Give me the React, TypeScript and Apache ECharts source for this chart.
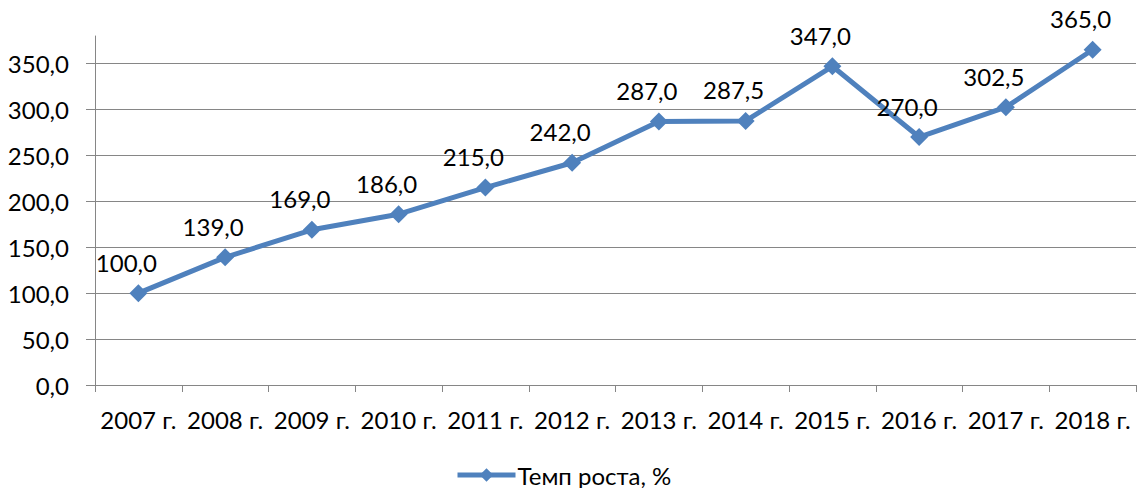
import React, { useEffect, useRef } from "react";
import * as echarts from "echarts";

const categories = ["2007 г.", "2008 г.", "2009 г.", "2010 г.", "2011 г.", "2012 г.", "2013 г.", "2014 г.", "2015 г.", "2016 г.", "2017 г.", "2018 г."];
const growthRate = [100, 139, 169, 186, 215, 242, 287, 287.5, 347, 270, 302.5, 365];
const seriesName = "Темп роста, %";

const FONT = "Lato, 'Open Sans', sans-serif";
const FS = 24;
const fmt = (v: number) => v.toFixed(1).replace(".", ",");

export default function App() {
  const ref = useRef<HTMLDivElement>(null);
  useEffect(() => {
    if (!ref.current) return;
    const chart = echarts.init(ref.current, undefined, { renderer: "svg" });
    chart.setOption({
      animation: false,
      backgroundColor: "#ffffff",
      textStyle: { fontFamily: FONT },
      grid: { left: 95, right: 2, top: 36, bottom: 103, containLabel: false },
      legend: {
        show: true,
        left: 450,
        top: 458,
        itemWidth: 58,
        itemHeight: 17,
        itemGap: 4,
        lineStyle: { width: 5, color: "#4F81BD" },
        itemStyle: { color: "#4F81BD" },
        textStyle: { fontSize: FS, color: "#000", fontFamily: FONT, padding: [0, 0, 0, -3] },
        data: [seriesName],
      },
      xAxis: {
        type: "category",
        data: categories,
        boundaryGap: true,
        axisLine: { lineStyle: { color: "#868686", width: 1 } },
        axisTick: { show: true, length: 7, lineStyle: { color: "#868686" } },
        axisLabel: { color: "#000", fontSize: FS, margin: 22, fontFamily: FONT, interval: 0 },
        splitLine: { show: false },
      },
      yAxis: {
        type: "value",
        min: 0,
        max: 380,
        interval: 50,
        axisLine: { show: true, lineStyle: { color: "#868686", width: 1 } },
        axisTick: { show: true, length: 9, lineStyle: { color: "#868686" } },
        axisLabel: {
          color: "#000",
          fontSize: FS,
          margin: 26,
          fontFamily: FONT,
          showMaxLabel: false,
          formatter: (v: number) => (v % 50 === 0 ? fmt(v) : ""),
        },
        splitLine: {
          show: true,
          lineStyle: {
            color: ["#868686", "#868686", "#868686", "#868686", "#868686", "#868686", "#868686", "#868686", "transparent"],
            width: 1,
          },
        },
      },
      series: [
        {
          name: seriesName,
          type: "line",
          data: growthRate,
          symbol: "diamond",
          symbolSize: 18,
          lineStyle: { color: "#4F81BD", width: 5 },
          itemStyle: { color: "#4F81BD" },
          label: {
            show: true,
            position: "top",
            distance: 10,
            offset: [-12, 0],
            color: "#000",
            fontSize: FS,
            fontFamily: FONT,
            formatter: (p: any) => fmt(p.value),
          },
        },
      ],
    });
    return () => chart.dispose();
  }, []);
  return <div ref={ref} style={{ position: "fixed", left: 0, top: 0, width: 1138, height: 488 }} />;
}
